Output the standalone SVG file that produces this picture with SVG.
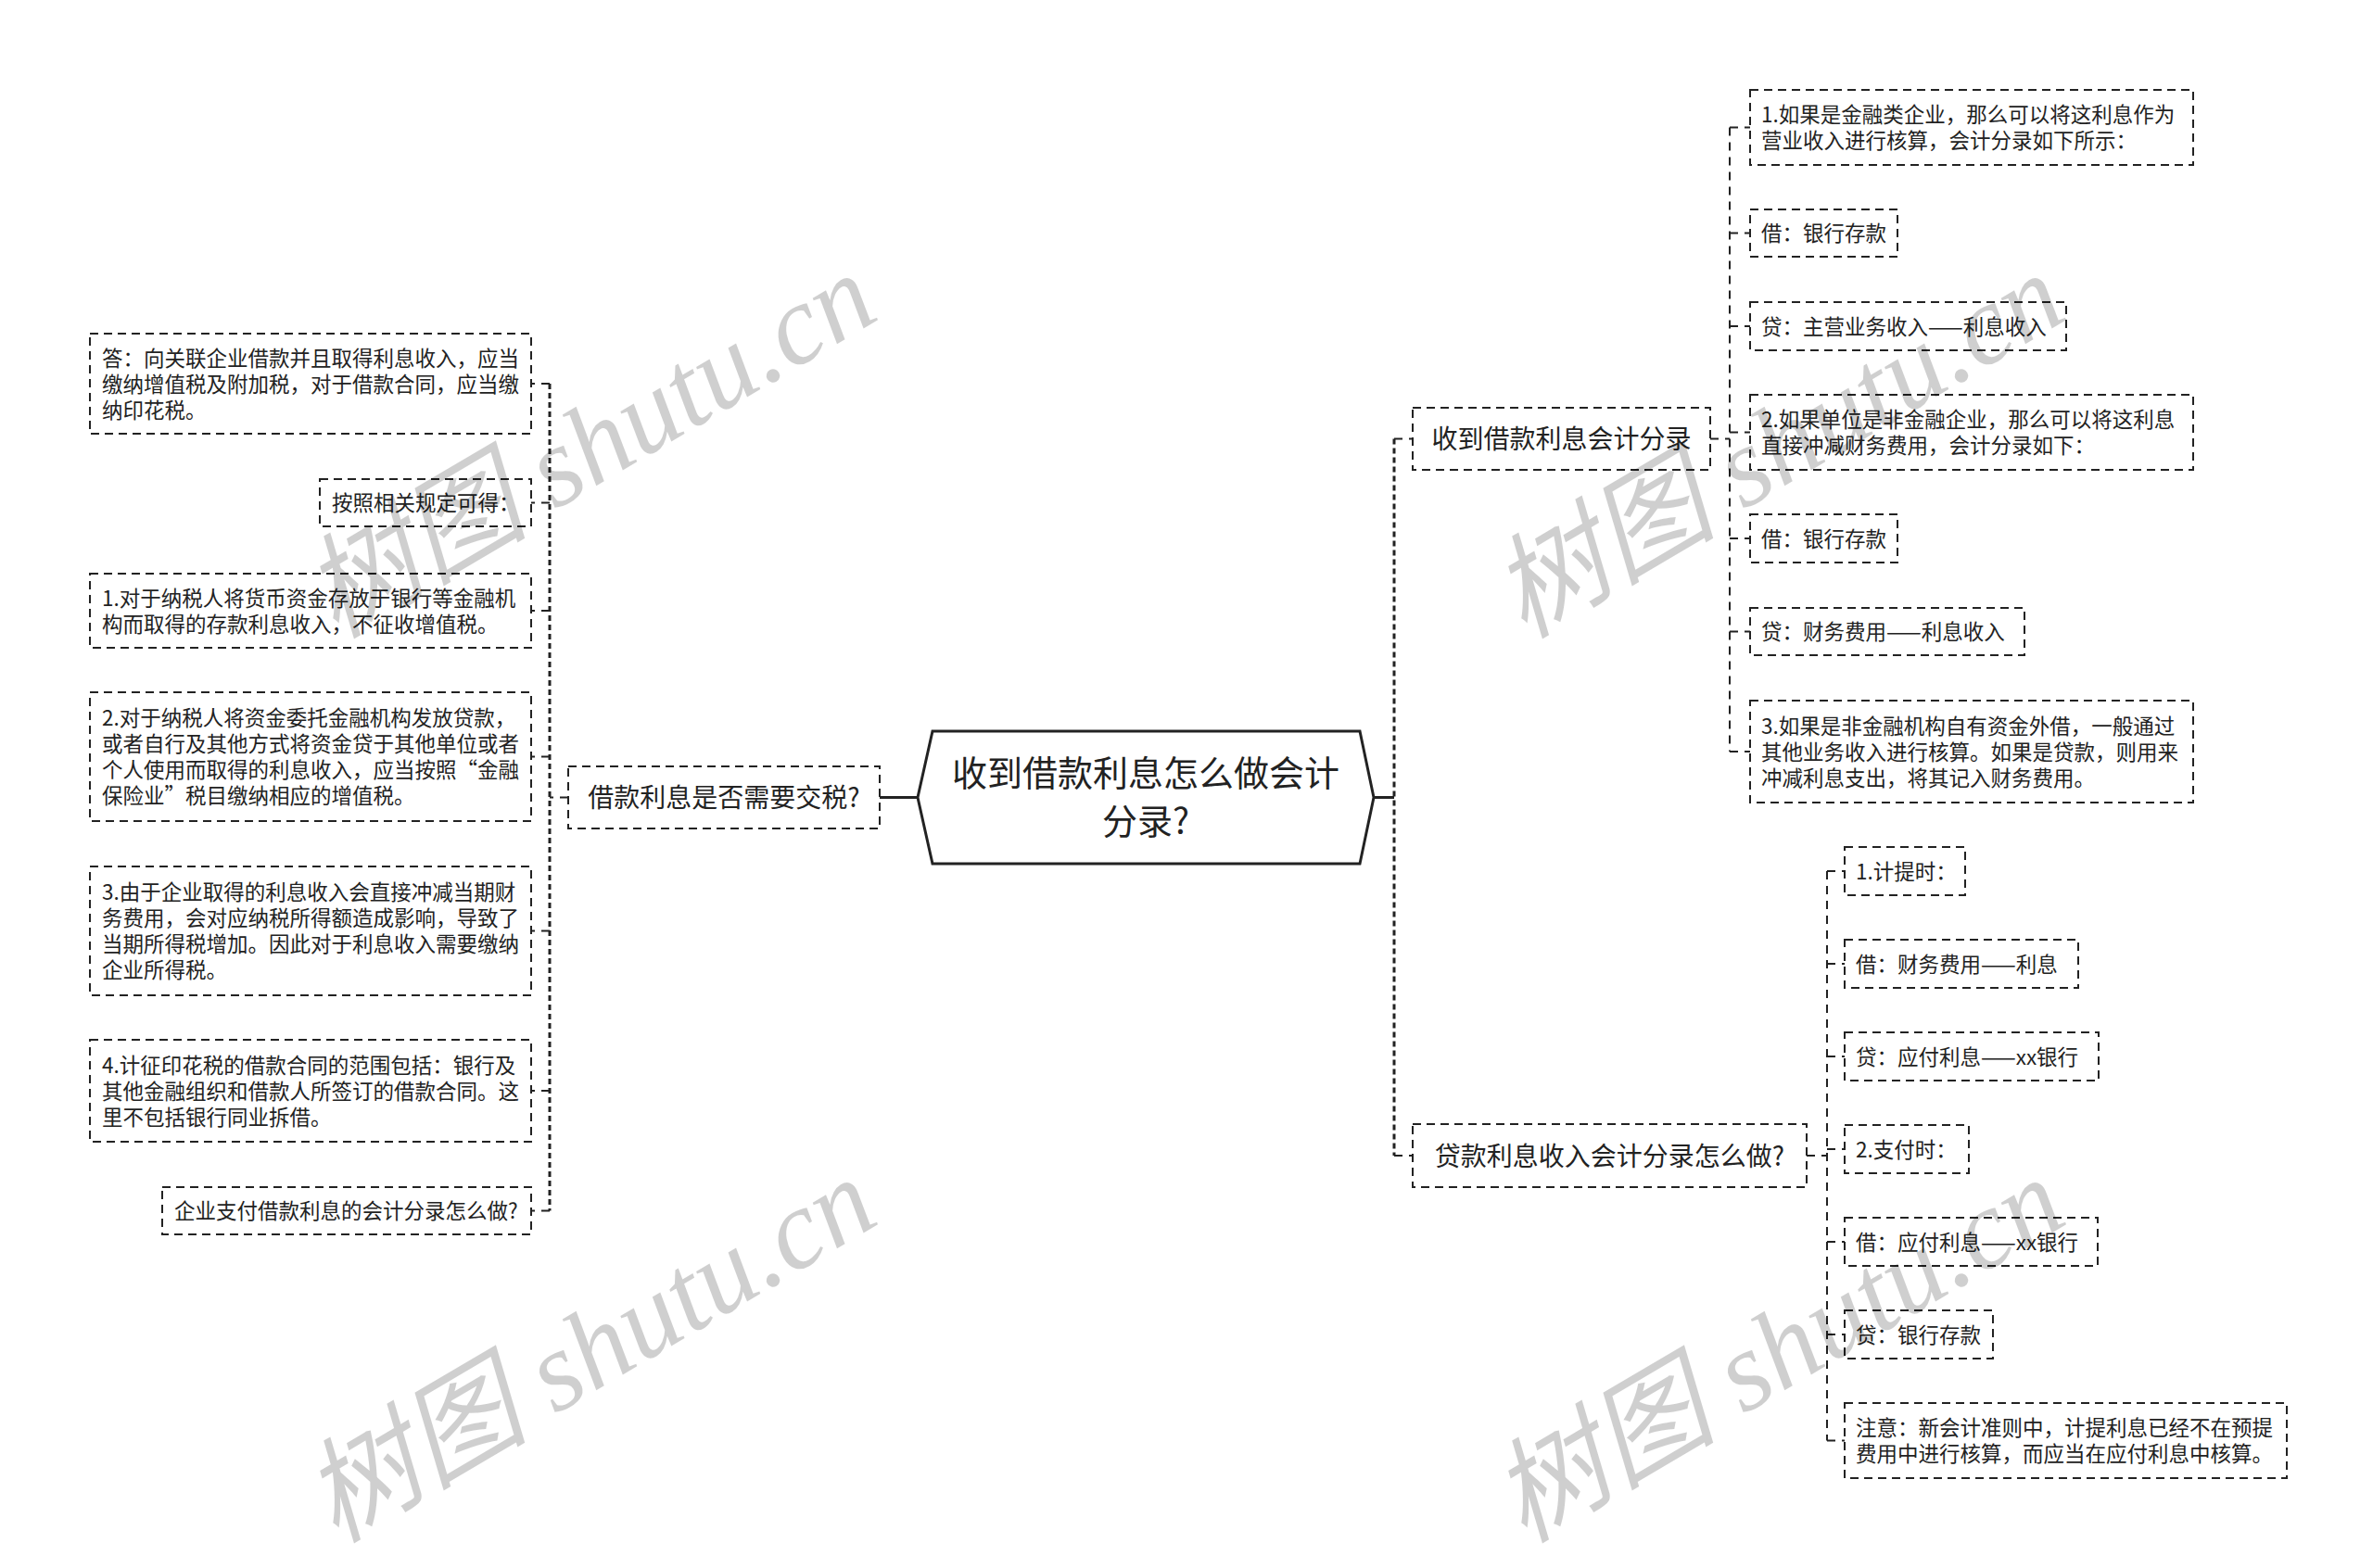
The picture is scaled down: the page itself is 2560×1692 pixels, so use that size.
<svg xmlns="http://www.w3.org/2000/svg" width="2560" height="1692" viewBox="0 0 2560 1692">
<style>
.bg{fill:#fff}
.box{fill:#fff;stroke:#222;stroke-width:2;stroke-dasharray:9,6}
.hex{fill:#fff;stroke:#222;stroke-width:3}
.t{font-family:"Noto Sans CJK SC","Noto Sans",sans-serif;fill:#222}
.s{font-size:22.5px}
.m{font-size:28px;text-anchor:middle}
.c{font-size:38px;text-anchor:middle}
.con{fill:none;stroke:#222;stroke-width:2;stroke-dasharray:9,7}
.trunk{fill:none;stroke:#222;stroke-width:3;stroke-dasharray:6,4}
.solid{fill:none;stroke:#222;stroke-width:3}
.wm{font-family:"Liberation Serif","Noto Sans CJK SC",serif;font-style:italic;font-size:122px;fill:#000;fill-opacity:0.19}
</style>
<rect class="bg" x="0" y="0" width="2560" height="1692"/>
<g id="connectors">
<path class="solid" d="M990,860.5 H949"/>
<path class="trunk" d="M593,414 V1306.5"/>
<path class="con" d="M613,860.5 H593"/>
<path class="con" d="M593,414 H573 M593,542.5 H573 M593,659 H573 M593,816.5 H573 M593,1004.5 H573 M593,1177 H573 M593,1306.5 H573"/>
<path class="solid" d="M1482,860.5 H1504"/>
<path class="trunk" d="M1504,473.5 V1247"/>
<path class="con" d="M1504,473.5 H1524 M1504,1247 H1524"/>
<path class="con" d="M1845,473.5 H1866"/>
<path class="con" d="M1866,137.5 V811"/>
<path class="con" d="M1866,137.5 H1888 M1866,251.5 H1888 M1866,352 H1888 M1866,466.5 H1888 M1866,581 H1888 M1866,681.5 H1888 M1866,811 H1888"/>
<path class="con" d="M1949,1247 H1971"/>
<path class="con" d="M1971,940 V1554.5"/>
<path class="con" d="M1971,940 H1990 M1971,1040 H1990 M1971,1140 H1990 M1971,1240 H1990 M1971,1340 H1990 M1971,1440 H1990 M1971,1554.5 H1990"/>
</g>
<g id="root">
<polygon class="hex" points="1006,789 1467,789 1482,860.5 1467,932 1006,932 990,860.5"/>
<text class="t c" x="1236" y="848">收到借款利息怎么做会计</text>
<text class="t c" x="1236" y="900">分录?</text>
</g>
<g id="n-left">
<rect class="box" x="613" y="827" width="336" height="67"/>
<text class="t m" x="781" y="871">借款利息是否需要交税?</text>
</g>
<g id="n-l1">
<rect class="box" x="97" y="360" width="476" height="108"/>
<text class="t s" x="110" y="394.5">答：向关联企业借款并且取得利息收入，应当<tspan x="110" dy="28">缴纳增值税及附加税，对于借款合同，应当缴</tspan><tspan x="110" dy="28">纳印花税。</tspan></text>
</g>
<g id="n-l2">
<rect class="box" x="345" y="517" width="228" height="51"/>
<text class="t s" x="358" y="551">按照相关规定可得：</text>
</g>
<g id="n-l3">
<rect class="box" x="97" y="619" width="476" height="80"/>
<text class="t s" x="110" y="653.5">1.对于纳税人将货币资金存放于银行等金融机<tspan x="110" dy="28">构而取得的存款利息收入，不征收增值税。</tspan></text>
</g>
<g id="n-l4">
<rect class="box" x="97" y="747" width="476" height="139"/>
<text class="t s" x="110" y="783">2.对于纳税人将资金委托金融机构发放贷款，<tspan x="110" dy="28">或者自行及其他方式将资金贷于其他单位或者</tspan><tspan x="110" dy="28">个人使用而取得的利息收入，应当按照“金融</tspan><tspan x="110" dy="28">保险业”税目缴纳相应的增值税。</tspan></text>
</g>
<g id="n-l5">
<rect class="box" x="97" y="935" width="476" height="139"/>
<text class="t s" x="110" y="971">3.由于企业取得的利息收入会直接冲减当期财<tspan x="110" dy="28">务费用，会对应纳税所得额造成影响，导致了</tspan><tspan x="110" dy="28">当期所得税增加。因此对于利息收入需要缴纳</tspan><tspan x="110" dy="28">企业所得税。</tspan></text>
</g>
<g id="n-l6">
<rect class="box" x="97" y="1122" width="476" height="110"/>
<text class="t s" x="110" y="1157.5">4.计征印花税的借款合同的范围包括：银行及<tspan x="110" dy="28">其他金融组织和借款人所签订的借款合同。这</tspan><tspan x="110" dy="28">里不包括银行同业拆借。</tspan></text>
</g>
<g id="n-l7">
<rect class="box" x="175" y="1281" width="398" height="51"/>
<text class="t s" x="188" y="1315">企业支付借款利息的会计分录怎么做?</text>
</g>
<g id="n-ra">
<rect class="box" x="1524" y="440" width="321" height="67"/>
<text class="t m" x="1684.5" y="484">收到借款利息会计分录</text>
</g>
<g id="n-ra1">
<rect class="box" x="1888" y="97" width="478" height="81"/>
<text class="t s" x="1900" y="132">1.如果是金融类企业，那么可以将这利息作为<tspan x="1900" dy="28">营业收入进行核算，会计分录如下所示：</tspan></text>
</g>
<g id="n-ra2">
<rect class="box" x="1888" y="226" width="159" height="51"/>
<text class="t s" x="1900" y="260">借：银行存款</text>
</g>
<g id="n-ra3">
<rect class="box" x="1888" y="326" width="341" height="52"/>
<text class="t s" x="1900" y="360.5">贷：主营业务收入——利息收入</text>
</g>
<g id="n-ra4">
<rect class="box" x="1888" y="426" width="478" height="81"/>
<text class="t s" x="1900" y="461">2.如果单位是非金融企业，那么可以将这利息<tspan x="1900" dy="28">直接冲减财务费用，会计分录如下：</tspan></text>
</g>
<g id="n-ra5">
<rect class="box" x="1888" y="555" width="159" height="52"/>
<text class="t s" x="1900" y="589.5">借：银行存款</text>
</g>
<g id="n-ra6">
<rect class="box" x="1888" y="656" width="296" height="51"/>
<text class="t s" x="1900" y="690">贷：财务费用——利息收入</text>
</g>
<g id="n-ra7">
<rect class="box" x="1888" y="756" width="478" height="110"/>
<text class="t s" x="1900" y="791.5">3.如果是非金融机构自有资金外借，一般通过<tspan x="1900" dy="28">其他业务收入进行核算。如果是贷款，则用来</tspan><tspan x="1900" dy="28">冲减利息支出，将其记入财务费用。</tspan></text>
</g>
<g id="n-rb">
<rect class="box" x="1524" y="1213" width="425" height="68"/>
<text class="t m" x="1736.5" y="1257.5">贷款利息收入会计分录怎么做?</text>
</g>
<g id="n-rb1">
<rect class="box" x="1990" y="914" width="130" height="52"/>
<text class="t s" x="2002" y="948.5">1.计提时：</text>
</g>
<g id="n-rb2">
<rect class="box" x="1990" y="1014" width="252" height="52"/>
<text class="t s" x="2002" y="1048.5">借：财务费用——利息</text>
</g>
<g id="n-rb3">
<rect class="box" x="1990" y="1114" width="274" height="52"/>
<text class="t s" x="2002" y="1148.5">贷：应付利息——xx银行</text>
</g>
<g id="n-rb4">
<rect class="box" x="1990" y="1214" width="134" height="52"/>
<text class="t s" x="2002" y="1248.5">2.支付时：</text>
</g>
<g id="n-rb5">
<rect class="box" x="1990" y="1314" width="273" height="52"/>
<text class="t s" x="2002" y="1348.5">借：应付利息——xx银行</text>
</g>
<g id="n-rb6">
<rect class="box" x="1990" y="1414" width="160" height="52"/>
<text class="t s" x="2002" y="1448.5">贷：银行存款</text>
</g>
<g id="n-rb7">
<rect class="box" x="1990" y="1514" width="477" height="81"/>
<text class="t s" x="2002" y="1549">注意：新会计准则中，计提利息已经不在预提<tspan x="2002" dy="28">费用中进行核算，而应当在应付利息中核算。</tspan></text>
</g>
<g id="watermarks">
<text class="wm" transform="translate(362,690) rotate(-30.5)">树图 shutu.cn</text>
<text class="wm" transform="translate(1644,690) rotate(-30.5)">树图 shutu.cn</text>
<text class="wm" transform="translate(362,1666) rotate(-30.5)">树图 shutu.cn</text>
<text class="wm" transform="translate(1644,1666) rotate(-30.5)">树图 shutu.cn</text>
</g>
</svg>
